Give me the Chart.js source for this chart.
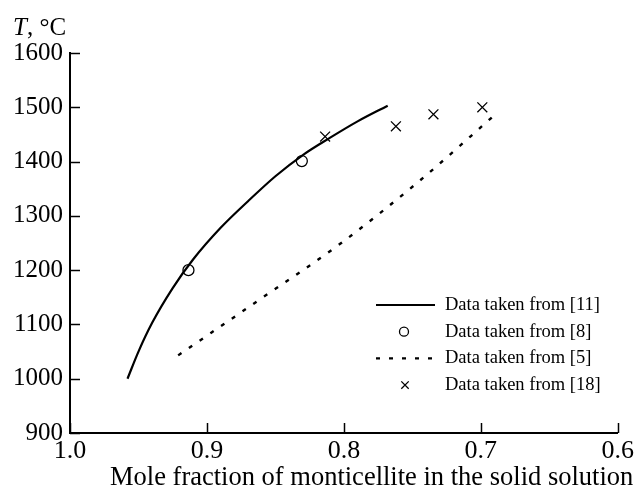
<!DOCTYPE html>
<html><head><meta charset="utf-8">
<script src="https://cdn.jsdelivr.net/npm/chart.js@4.4.1/dist/chart.umd.min.js"></script>
<style>html,body{margin:0;padding:0;background:#fff;}canvas{display:block;}</style>
</head><body>
<canvas id="c" width="637" height="487"></canvas>
<script>
// ---- data ----
const xTickValues = [1.0, 0.9, 0.8, 0.7, 0.6];
const yTickValues = [900, 1000, 1100, 1200, 1300, 1400, 1500, 1600];
const xAxisTitle = 'Mole fraction of monticellite in the solid solution';
const yAxisTitleItalic = 'T';
const yAxisTitleRest = ', \u00B0C';
const seriesLabels = ['Data taken from [11]', 'Data taken from [8]', 'Data taken from [5]', 'Data taken from [18]'];

const ref11X = [0.958, 0.95, 0.94, 0.925, 0.91, 0.89, 0.87, 0.85, 0.83, 0.81, 0.79, 0.768];
const ref11Y = [1000, 1050, 1103, 1167, 1220, 1278, 1327, 1373, 1412, 1444, 1474, 1503];
const ref8X = [0.9135, 0.8307];
const ref8Y = [1200, 1401];
const ref5X = [0.921, 0.862, 0.803, 0.745, 0.688];
const ref5Y = [1043, 1145, 1248, 1364, 1490];
const ref18X = [0.8137, 0.762, 0.7346, 0.6989];
const ref18Y = [1446, 1465, 1487, 1500];

const toPoints = (xs, ys) => xs.map((x, i) => ({ x: x, y: ys[i] }));
const SERIF = '"Liberation Serif", "Times New Roman", serif';

const decor = {
  id: 'decor',
  afterDraw(chart) {
    const ctx = chart.ctx;
    const xs = chart.scales.x, ys = chart.scales.y;
    ctx.save();
    // inward tick marks
    ctx.strokeStyle = '#000';
    ctx.lineWidth = 1.5;
    xs.ticks.forEach(t => {
      const px = Math.round(xs.getPixelForValue(t.value)) + 0.5;
      ctx.beginPath(); ctx.moveTo(px, xs.top); ctx.lineTo(px, xs.top - 10); ctx.stroke();
    });
    ys.ticks.forEach(t => {
      const py = Math.round(ys.getPixelForValue(t.value)) + 0.5;
      ctx.beginPath(); ctx.moveTo(ys.right, py); ctx.lineTo(ys.right + 10, py); ctx.stroke();
    });
    // axis titles
    ctx.fillStyle = '#000';
    ctx.textBaseline = 'alphabetic';
    ctx.textAlign = 'left';
    ctx.font = '26.5px ' + SERIF;
    ctx.fillText(xAxisTitle, 110, 485);
    ctx.font = 'italic 25px ' + SERIF;
    ctx.fillText(yAxisTitleItalic, 13, 35);
    const w = ctx.measureText(yAxisTitleItalic).width;
    ctx.font = '25px ' + SERIF;
    ctx.fillText(yAxisTitleRest, 13 + w, 35);
    // legend
    const ds = chart.data.datasets;
    ds.forEach((d, i) => {
      const cy = 305 + i * 26.7;
      ctx.strokeStyle = '#000';
      if (d.showLine) {
        ctx.lineWidth = d.borderWidth;
        ctx.setLineDash(d.borderDash || []);
        ctx.beginPath(); ctx.moveTo(376, cy); ctx.lineTo(435, cy); ctx.stroke();
        ctx.setLineDash([]);
      } else if (d.pointStyle === 'circle') {
        ctx.lineWidth = 1.3; ctx.fillStyle = '#fff';
        ctx.beginPath(); ctx.arc(404, cy, 4.5, 0, Math.PI * 2); ctx.fill(); ctx.stroke();
      } else {
        ctx.lineWidth = 1.3; const r = 3.7;
        ctx.beginPath();
        ctx.moveTo(405 - r, cy - r); ctx.lineTo(405 + r, cy + r);
        ctx.moveTo(405 + r, cy - r); ctx.lineTo(405 - r, cy + r);
        ctx.stroke();
      }
      ctx.fillStyle = '#000';
      ctx.font = '18.5px ' + SERIF;
      ctx.textBaseline = 'middle';
      ctx.fillText(d.label, 445, cy);
    });
    ctx.restore();
  }
};

new Chart(document.getElementById('c'), {
  type: 'scatter',
  data: {
    datasets: [
      { label: seriesLabels[0], data: toPoints(ref11X, ref11Y), showLine: true, borderColor: '#000', borderWidth: 2.2, pointRadius: 0, cubicInterpolationMode: 'monotone', fill: false },
      { label: seriesLabels[1], data: toPoints(ref8X, ref8Y), showLine: false, pointStyle: 'circle', pointRadius: 5.5, borderColor: '#000', backgroundColor: '#fff', borderWidth: 1.3 },
      { label: seriesLabels[2], data: toPoints(ref5X, ref5Y), showLine: true, borderColor: '#000', borderWidth: 2.4, borderDash: [4, 9], pointRadius: 0, cubicInterpolationMode: 'monotone', fill: false },
      { label: seriesLabels[3], data: toPoints(ref18X, ref18Y), showLine: false, pointStyle: 'crossRot', pointRadius: 7, borderColor: '#000', borderWidth: 1.3 }
    ]
  },
  options: {
    responsive: false,
    animation: false,
    events: [],
    layout: { padding: { top: 53, right: 18, left: 0, bottom: 0 } },
    plugins: { legend: { display: false }, title: { display: false }, tooltip: { enabled: false } },
    scales: {
      x: {
        type: 'linear', reverse: true, min: 0.6, max: 1.0,
        afterBuildTicks: s => { s.ticks = xTickValues.map(v => ({ value: v })); },
        afterFit: s => { s.height = 54; },
        ticks: { color: '#000', font: { family: SERIF, size: 26 }, padding: 3, maxRotation: 0, callback: v => Number(v).toFixed(1) },
        grid: { drawOnChartArea: false, drawTicks: false },
        border: { display: true, color: '#000', width: 2 }
      },
      y: {
        type: 'linear', min: 900, max: 1600,
        afterBuildTicks: s => { s.ticks = yTickValues.map(v => ({ value: v })); },
        afterFit: s => { s.width = 70; },
        ticks: { color: '#000', font: { family: SERIF, size: 25 }, padding: 7, callback: v => String(v) },
        grid: { drawOnChartArea: false, drawTicks: false },
        border: { display: true, color: '#000', width: 2 }
      }
    }
  },
  plugins: [decor]
});
</script>
</body></html>
